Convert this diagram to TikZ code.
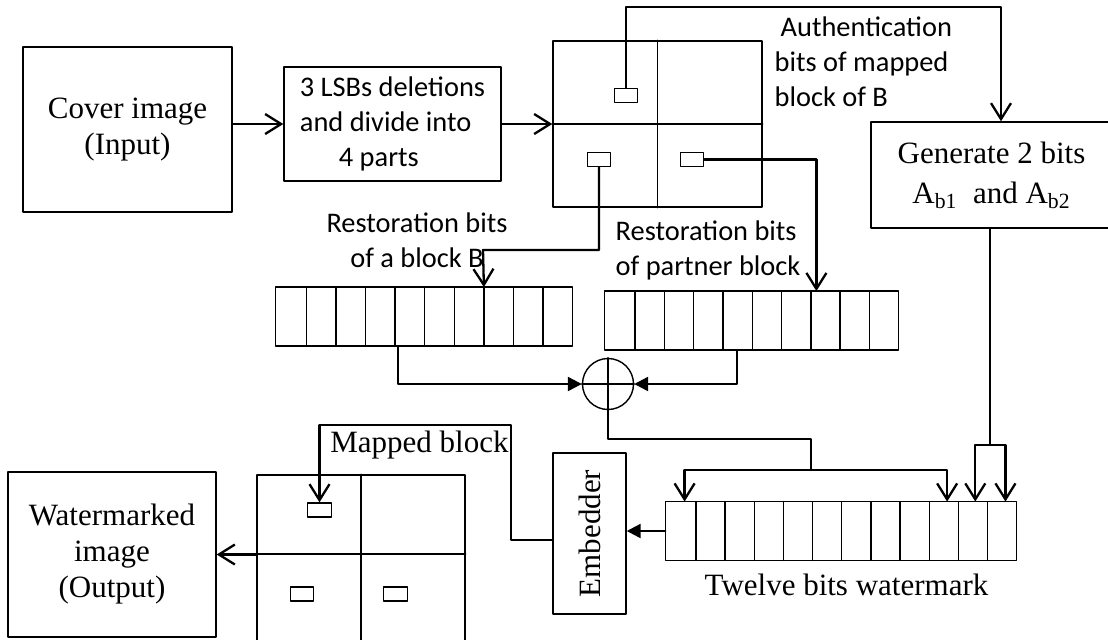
\documentclass[tikz,border=0pt]{standalone}
\usepackage{fontspec}
\setmainfont{Liberation Serif}
\newfontfamily\calibri{Carlito}
\usetikzlibrary{arrows.meta}

\begin{document}
\begin{tikzpicture}[x=0.5pt,y=-0.5pt,line width=0.7pt,line cap=round,line join=round,
  lbl/.style={inner sep=0pt,align=center,font=\fontsize{15.5}{18}\selectfont},
  lblsans/.style={inner sep=0pt,font=\calibri\fontsize{14.2}{17.5}\selectfont},
  box/.style={draw,lbl},
  cell/.style={inner sep=0pt,minimum width=#1,minimum height=28.75pt},
  tag/.style={draw,inner sep=0pt,minimum width=11.75pt,minimum height=7pt},
  conn/.style={line width=1.15pt},
  opn/.style={conn,-{Straight Barb[length=8pt,width=10pt,line width=1.15pt]}},
  fil/.style={conn,-{Triangle[length=7pt,width=7pt]}}]
\clip (0,0) rectangle (1108,639);

% top row
\node[box,minimum width=104.5pt,minimum height=82.5pt] (cover) at (127.5,129.5) {Cover image\\(Input)};
\node[draw,lblsans,align=left,minimum width=108.5pt,minimum height=57pt] (lsb) at (392.5,124)
  {3 LSBs deletions\\and divide into\\\hspace*{19.5pt}4 parts};
\node[draw,minimum width=104.5pt,minimum height=83pt] (blk) at (657.5,124) {};
\draw (blk.north) -- (blk.south) (blk.west) -- (blk.east);
\node[tag] (a1) at (626,95.5) {};
\node[tag] (a2) at (599,159.5) {};
\node[tag] (a3) at (692,159.5) {};
\node[box,minimum width=120.5pt,minimum height=53pt] (gen) at (991.5,175)
  {Generate 2 bits\\[2pt]A\textsubscript{b1}\ \ and A\textsubscript{b2}};

% registers
\foreach \i in {1,...,10}
  \node[cell=14.8pt] (rb\i) at ({276+29.6*(\i-0.5)},316.5) {};
\foreach \i in {1,...,10}
  \node[cell=14.65pt] (rp\i) at ({605+29.3*(\i-0.5)},320.5) {};
\foreach \i in {1,...,12}
  \node[cell=14.58pt] (tw\i) at ({666+29.17*(\i-0.5)},531) {};
\draw (rb1.north west) rectangle (rb10.south east);
\draw (rp1.north west) rectangle (rp10.south east);
\draw (tw1.north west) rectangle (tw12.south east);
\foreach \i in {1,...,9}
  \draw (rb\i.north east) -- (rb\i.south east) (rp\i.north east) -- (rp\i.south east);
\foreach \i in {1,...,11}
  \draw (tw\i.north east) -- (tw\i.south east);

\node[draw,circle,minimum size=25.5pt,inner sep=0pt] (xor) at (608,384) {};
\draw (xor.north) -- (xor.south) (xor.west) -- (xor.east);

% bottom row
\node[box,minimum width=36.5pt,minimum height=80.5pt] (emb) at (589.5,533.5) {};
\node[lbl,rotate=90] (embtxt) at (emb) {Embedder};
\node[box,minimum width=104pt,minimum height=82.5pt] (wm) at (112,554.5) {Watermarked\\image\\(Output)};
\node[draw,minimum width=104pt,minimum height=87.5pt] (out) at (361,562.5) {};
\coordinate (outmid) at (361,554);
\draw (out.north) -- (out.south) (out.west |- outmid) -- (out.east |- outmid);
\node[tag] (m1) at (319.5,510) {};
\node[tag] (m2) at (302,594) {};
\node[tag] (m3) at (395.5,594) {};

% labels
\node[lblsans,align=left,anchor=west] (authlbl) at (774,61.5) {\hspace*{3pt}Authentication\\bits of mapped\\block of B};
\node[lblsans,align=center] (rblbl) at (417,240) {Restoration bits\\of a block B};
\node[lblsans,align=left,anchor=west] (rplbl) at (615,250.5) {Restoration bits\\of partner block};
\node[lbl] (maplbl) at (419.5,445) {Mapped block};
\node[lbl] (twlbl) at (846.5,585) {Twelve bits watermark};

% connectors
\coordinate (authtop) at (1001,7);
\coordinate (rbbend) at (483,250);
\coordinate (xturn) at (811,439);
\coordinate (wsplit) at (811,470);
\coordinate (gsplit) at (990,445);
\coordinate (mturn) at (511,425);
\draw[opn] (lsb.west -| cover.east) -- (lsb.west);
\draw[opn] (lsb.east) -- (blk.west);
\draw[opn] (a1.north) |- (authtop) -- (authtop |- gen.north);
\draw[opn] (a2.south) |- (rbbend) -- (rb7.north east);
\draw[opn] (a3.east) -| ([xshift=3.5pt]rp8.north west);
\draw[fil] ([xshift=2pt]rb5.south west) |- (xor.west);
\draw[fil] (rp5.south) |- (xor.east);
\draw[conn] (xor.south) |- (xturn) -- (wsplit);
\draw[opn] (wsplit) -| ([xshift=2pt]tw1.north);
\draw[opn] (wsplit) -| ([xshift=2pt]tw10.north);
\draw[conn] (gen.south -| gsplit) -- (gsplit);
\draw[opn] (gsplit) -| ([xshift=1.5pt]tw11.north);
\draw[opn] (gsplit) -| ([xshift=2pt]tw12.north);
\draw[fil] (tw1.west) -- (emb.east |- tw1.west);
\draw[opn] ([yshift=-3.25pt]emb.west) -| (mturn) -| (m1.north);
\draw[opn] (wm.east -| out.west) -- (wm.east);
\end{tikzpicture}
\end{document}
